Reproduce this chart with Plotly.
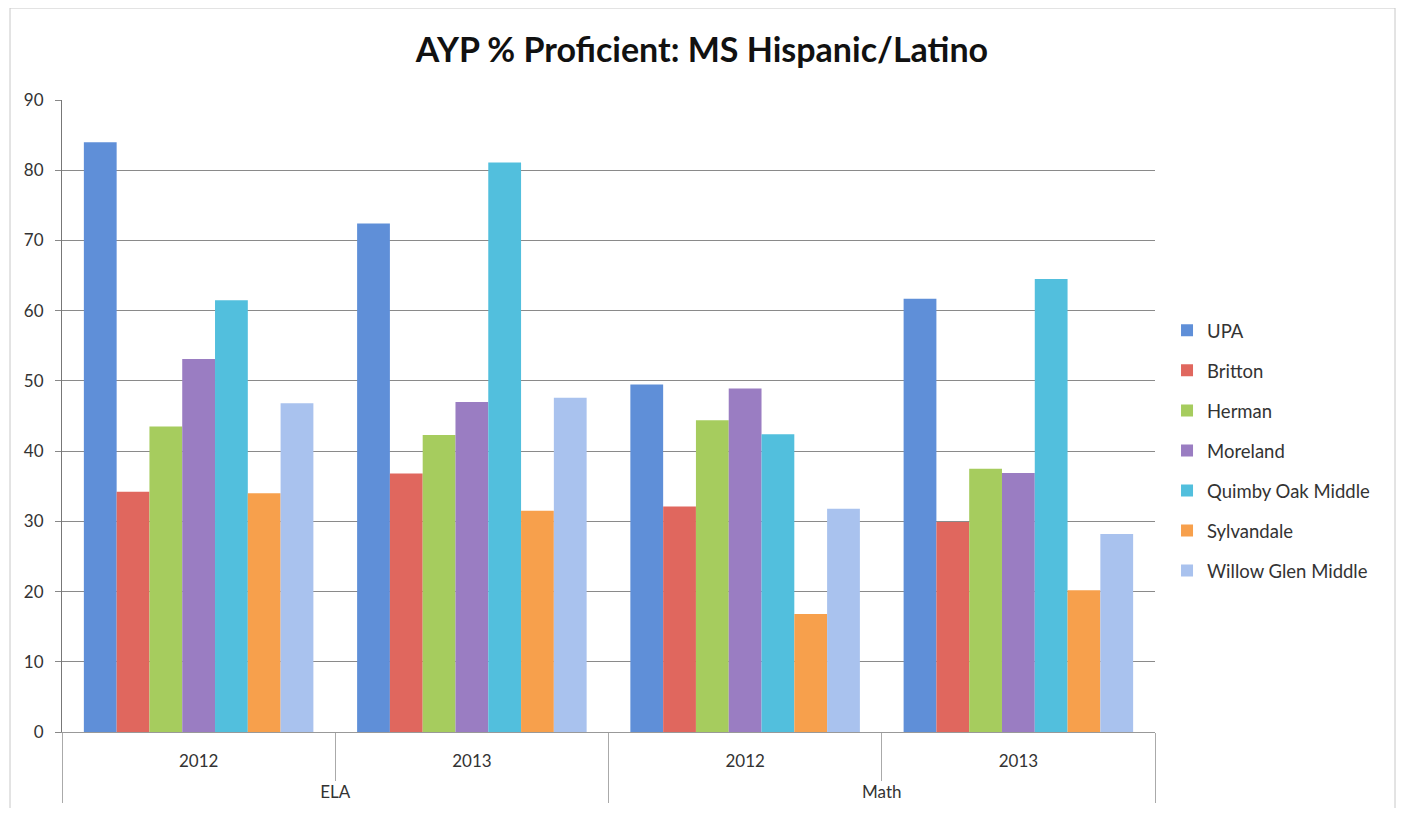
import plotly.graph_objects as go

subjects = ["ELA", "ELA", "Math", "Math"]
years = ["2012", "2013", "2012", "2013"]

schools = ["UPA", "Britton", "Herman", "Moreland", "Quimby Oak Middle", "Sylvandale", "Willow Glen Middle"]
upa = [84.0, 72.4, 49.5, 61.7]
britton = [34.2, 36.8, 32.1, 29.9]
herman = [43.5, 42.3, 44.4, 37.5]
moreland = [53.1, 47.0, 48.9, 36.9]
quimby = [61.5, 81.1, 42.4, 64.5]
sylvandale = [34.0, 31.5, 16.8, 20.2]
willow = [46.8, 47.6, 31.8, 28.2]
series = [upa, britton, herman, moreland, quimby, sylvandale, willow]

colors = ["#5f8fd8", "#e0675e", "#a6cc5e", "#9a7dc2", "#52bfdd", "#f7a04c", "#a9c2ee"]

year_labels = [y + "<br>\u00a0" for y in years]

fig = go.Figure()
for i, (name, vals) in enumerate(zip(schools, series)):
    fig.add_trace(go.Bar(
        x=[subjects, year_labels], y=vals, name=name,
        marker=dict(color=colors[i], line=dict(width=0)),
        legendgroup=name,
    ))

W, H = 1389, 800
fig.update_layout(
    width=W, height=H,
    margin=dict(l=54, r=242, t=92, b=76, autoexpand=False),
    paper_bgcolor="white", plot_bgcolor="white",
    font=dict(family="Lato, Open Sans, sans-serif", color="#333", size=17),
    title=dict(text="<b>AYP % Proficient: MS Hispanic/Latino</b>", x=694 / W, xref="container",
               y=1 - 42 / H, yref="container", yanchor="middle", xanchor="center",
               font=dict(size=34, color="#111")),
    barmode="group", bargap=0.16, bargroupgap=0.0,
    legend=dict(x=1.011, y=0.445, xanchor="left", yanchor="middle",
                font=dict(size=18.5, color="#333"), traceorder="grouped", tracegroupgap=13,
                itemwidth=30),
    showlegend=True,
)
fig.update_yaxes(range=[0, 90], dtick=10, showgrid=True, gridcolor="#8a8a8a", gridwidth=1,
                 showline=True, linecolor="#777", linewidth=1, ticks="outside", ticklen=6,
                 tickcolor="#888", zeroline=False, tickfont=dict(size=17, color="#333"),
                 ticklabelstandoff=8, automargin=False)
fig.update_xaxes(showline=True, linecolor="#999", linewidth=1, showdividers=True,
                 dividercolor="#aaa", dividerwidth=1, tickfont=dict(size=17, color="#333"),
                 ticks="outside", ticklen=48, tickcolor="#aaa", ticklabelstandoff=14,
                 automargin=False)

fig.add_shape(type="rect", xref="paper", yref="paper",
              x0=(2 - 54) / 1093, x1=(1387 - 54) / 1093,
              y0=-0.2, y1=(724 - 0) / 632,
              line=dict(color="#c8c8c8", width=1), fillcolor="rgba(0,0,0,0)", layer="below")

fig.write_html("out.html")
